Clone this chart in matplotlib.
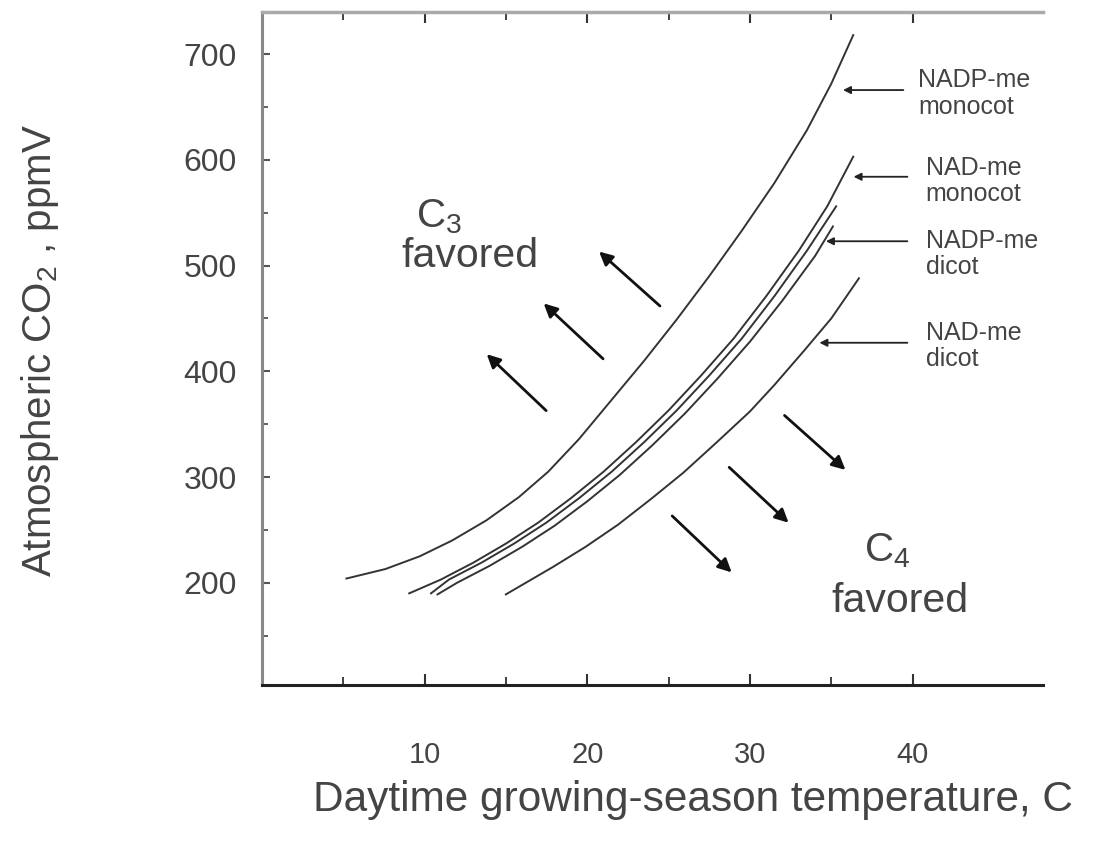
import matplotlib.pyplot as plt

plt.rcParams['font.family'] = ['Liberation Sans', 'DejaVu Sans']
plt.rcParams['mathtext.fontset'] = 'custom'
plt.rcParams['mathtext.rm'] = 'Liberation Sans'
plt.rcParams['mathtext.it'] = 'Liberation Sans:italic'

# Crossover curves (temperature C, CO2 ppmV)
nadp_mono_t = [5.2, 7.6, 9.7, 11.7, 13.8, 15.8, 17.6, 19.5, 21.5, 23.5, 25.5, 27.5,
               29.5, 31.5, 33.5, 35.0, 36.35]
nadp_mono_co2 = [204, 213, 225, 240, 259, 281, 305, 336, 373, 410, 449, 490,
                 533, 578, 628, 672, 718]

nad_mono_t = [9.06, 11.0, 13.0, 15.0, 17.0, 19.0, 21.0, 23.0, 25.0, 27.0, 29.0, 31.0,
              33.0, 34.75, 36.35]
nad_mono_co2 = [190, 203, 219, 237, 257, 280, 305, 333, 363, 396, 431, 471,
                514, 556, 603]

nadp_dicot_t = [10.4, 11.5, 13.5, 15.5, 17.5, 19.5, 21.5, 23.5, 25.5, 27.5, 29.5, 31.5,
                33.5, 35.3]
nadp_dicot_co2 = [190, 203, 219, 237, 257, 280, 305, 333, 363, 396, 431, 471,
                  514, 556]

third_t = [10.8, 12.0, 14.0, 16.0, 18.0, 20.0, 22.0, 24.0, 26.0, 28.0, 30.0, 32.0,
           34.0, 35.1]
third_co2 = [189, 200, 216, 234, 254, 277, 302, 330, 360, 393, 428, 467,
             509, 537]

nad_dicot_t = [15.0, 17.9, 19.9, 21.9, 23.9, 25.9, 27.9, 30.0, 31.5, 33.3, 35.0, 36.7]
nad_dicot_co2 = [189, 215, 234, 255, 279, 304, 332, 362, 387, 419, 450, 488]

# direction arrows (tail -> head)
c3_tail_t = [24.6, 21.1, 17.6]
c3_tail_co2 = [460, 410, 361]
c3_head_t = [20.6, 17.2, 13.7]
c3_head_co2 = [515, 466, 418]

c4_tail_t = [32.0, 28.6, 25.1]
c4_tail_co2 = [360, 311, 265]
c4_head_t = [36.0, 32.5, 29.0]
c4_head_co2 = [305, 255, 208]

# curve labels
labels = ['NADP-me\nmonocot', 'NAD-me\nmonocot', 'NADP-me\ndicot', 'NAD-me\ndicot']
label_t = [40.35, 40.8, 40.8, 40.8]
label_co2 = [663, 580, 511, 424]
pointer_head_t = [35.55, 36.2, 34.5, 34.1]
pointer_head_co2 = [666, 584, 523, 427]
pointer_tail_t = [39.6, 39.85, 39.85, 39.85]

fig = plt.figure(figsize=(11, 8.44), dpi=100)
ax = fig.add_axes([0.238, 0.188, 0.71, 0.798])

line_col = '#333333'
txt_col = '#444444'
for t, c in [(nadp_mono_t, nadp_mono_co2), (nad_mono_t, nad_mono_co2),
             (nadp_dicot_t, nadp_dicot_co2), (third_t, third_co2),
             (nad_dicot_t, nad_dicot_co2)]:
    ax.plot(t, c, color=line_col, lw=1.4)

for i in range(3):
    ax.annotate('', xy=(c3_head_t[i], c3_head_co2[i]), xytext=(c3_tail_t[i], c3_tail_co2[i]),
                arrowprops=dict(arrowstyle='-|>', color='#111111', lw=2, mutation_scale=20))
    ax.annotate('', xy=(c4_head_t[i], c4_head_co2[i]), xytext=(c4_tail_t[i], c4_tail_co2[i]),
                arrowprops=dict(arrowstyle='-|>', color='#111111', lw=2, mutation_scale=20))

for i in range(4):
    ax.annotate('', xy=(pointer_head_t[i], pointer_head_co2[i]),
                xytext=(pointer_tail_t[i], pointer_head_co2[i]),
                arrowprops=dict(arrowstyle='-|>', color='#222222', lw=1.3, mutation_scale=11))
    ax.text(label_t[i], label_co2[i], labels[i], fontsize=18, color=txt_col,
            ha='left', va='center', linespacing=1.15)

ax.text(10.9, 546, 'C$_3$', fontsize=29, color=txt_col, ha='center', va='center')
ax.text(12.8, 509, 'favored', fontsize=29.5, color=txt_col, ha='center', va='center')
ax.text(38.45, 230, 'C$_4$', fontsize=29, color=txt_col, ha='center', va='center')
ax.text(39.25, 183, 'favored', fontsize=29.5, color=txt_col, ha='center', va='center')

ax.set_xlim(0, 48)
ax.set_ylim(103, 740)
ax.set_xticks([10, 20, 30, 40])
ax.set_xticks([5, 15, 25, 35], minor=True)
ax.set_yticks([200, 300, 400, 500, 600, 700])
ax.set_yticks([150, 250, 350, 450, 550, 650], minor=True)
ax.tick_params(axis='x', which='both', direction='in', top=True, labelsize=21,
               labelcolor=txt_col, pad=40, color='#333333')
ax.tick_params(axis='x', which='major', length=8, width=1.5)
ax.tick_params(axis='x', which='minor', length=6, width=1.3)
ax.tick_params(axis='y', which='both', direction='in', labelsize=23,
               labelcolor=txt_col, pad=18, color='#555555')
ax.tick_params(axis='y', which='major', length=6, width=1.5)
ax.tick_params(axis='y', which='minor', length=4, width=1.3)

ax.spines['right'].set_visible(False)
ax.spines['top'].set_color('#aaaaaa')
ax.spines['top'].set_linewidth(2.5)
ax.spines['left'].set_color('#888888')
ax.spines['left'].set_linewidth(2.2)
ax.spines['bottom'].set_color('#222222')
ax.spines['bottom'].set_linewidth(2.2)

fig.text(0.63, 0.052, 'Daytime growing-season temperature, C', fontsize=30.5,
         color=txt_col, ha='center', va='center')
fig.text(0.036, 0.585, 'Atmospheric CO$_2$ , ppmV', fontsize=29, color=txt_col,
         ha='center', va='center', rotation=90)

fig.savefig('out.png', dpi=100)
